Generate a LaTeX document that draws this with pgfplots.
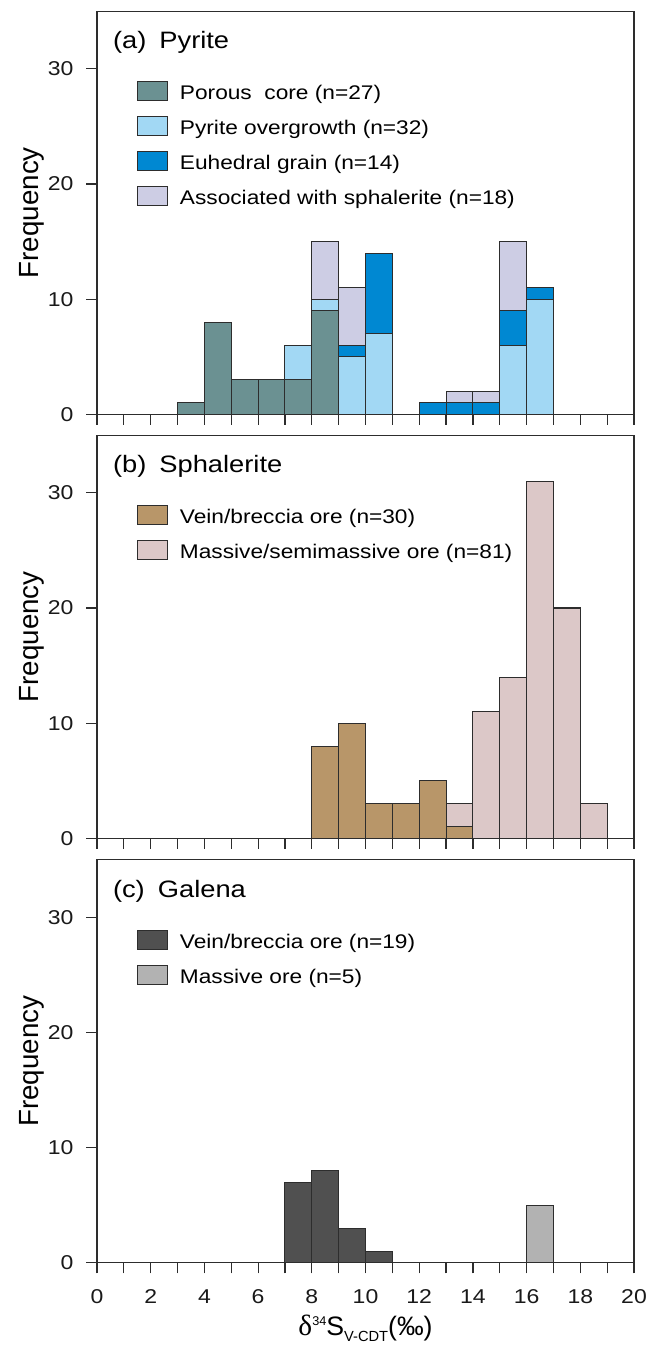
\documentclass[border=0pt]{standalone}
\usepackage{fontspec}
\setmainfont{Liberation Sans}[FakeStretch=1.15]
\newfontfamily\plainsans{Liberation Sans}
\newfontfamily\serifgreek{Liberation Serif}
\usepackage{pgfplots}
\pgfplotsset{compat=1.18}
\usepackage{pgfplotstable}

\definecolor{edge}{RGB}{45,45,45}
\definecolor{porous}{RGB}{107,145,146}
\definecolor{overg}{RGB}{162,216,244}
\definecolor{euhed}{RGB}{0,136,210}
\definecolor{assoc}{RGB}{205,205,228}
\definecolor{sphvein}{RGB}{184,150,105}
\definecolor{sphmass}{RGB}{220,200,200}
\definecolor{galvein}{RGB}{80,80,80}
\definecolor{galmass}{RGB}{178,178,178}

\newcommand{\tickfont}{\fontsize{15}{18}\selectfont}
\newcommand{\legfont}{\fontsize{14.8}{17}\selectfont}
\newcommand{\titfont}{\fontsize{17.8}{21}\selectfont}
\newcommand{\freqfont}{\plainsans\fontsize{20.8}{25}\selectfont}

% Pyrite: bins (centre) porous, overgrowth, euhedral, associated
\pgfplotstableread{
x    a  b  c  d
3.5  1  0  0  0
4.5  8  0  0  0
5.5  3  0  0  0
6.5  3  0  0  0
7.5  3  3  0  0
8.5  9  1  0  5
9.5  0  5  1  5
10.5 0  7  7  0
11.5 0  0  0  0
12.5 0  0  1  0
13.5 0  0  1  1
14.5 0  0  1  1
15.5 0  6  3  6
16.5 0  10 1  0
}\pyrite

% Sphalerite: vein/breccia, massive/semimassive
\pgfplotstableread{
x    v  m
8.5  8  0
9.5  10 0
10.5 3  0
11.5 3  0
12.5 5  0
13.5 1  2
14.5 0  11
15.5 0  14
16.5 0  31
17.5 0  20
18.5 0  3
}\sphal

% Galena
\pgfplotstableread{
x    v
7.5  7
8.5  8
9.5  3
10.5 1
}\galvein
\pgfplotstableread{
x    m
16.5 5
}\galmass

\pgfplotsset{
  panel/.style={
    scale only axis, width=402.75pt, height=302.25pt,
    xmin=0, xmax=20, ymin=0, ymax=35,
    xtick={0,1,...,20}, ytick={0,10,20,30},
    xtick pos=bottom, ytick pos=left,
    tick align=outside, major tick length=8pt,
    axis line style={line width=1pt, draw=edge},
    tick style={line width=0.9pt, draw=edge},
    /pgf/number format/assume math mode=true,
    ticklabel style={font=\tickfont, text=black!90},
    yticklabel style={inner sep=0pt, xshift=-9.5pt},
    xticklabel style={inner sep=0pt, yshift=-12pt},
    ylabel={Frequency},
    ylabel style={at={(axis description cs:-0.10925,0.5)}, anchor=base, font=\freqfont, inner sep=0pt},
    bar width=1, bar shift=0pt,
    legend image code/.code={\draw[draw=edge, line width=0.8pt, ##1] (0pt,-4.3pt) rectangle (22pt,10pt);},
    legend cell align=left,
    legend style={draw=none, fill=none, font=\legfont,
      at={(axis description cs:0,1)}, anchor=north west,
      xshift=30.2pt, yshift=-52.5pt, inner sep=0pt, outer sep=0pt,
      row sep=8.7pt, column sep=9.2pt,
      nodes={inner sep=0pt, text height=10.5pt, text depth=3.75pt}},
    every axis plot/.append style={draw=edge, line width=0.8pt},
  }
}

\begin{document}
\begin{tikzpicture}
\useasboundingbox (-72.75pt,-61.7pt) rectangle (421.5pt,947pt);

% (a) Pyrite
\begin{axis}[ybar stacked, panel, at={(0pt,636.3pt)}, anchor=south west, xticklabels={}]
\addplot[fill=porous] table[x=x,y=a]{\pyrite};
\addlegendentry{Porous\ \ core (n=27)}
\addplot[fill=overg] table[x=x,y=b]{\pyrite};
\addlegendentry{Pyrite overgrowth (n=32)}
\addplot[fill=euhed] table[x=x,y=c]{\pyrite};
\addlegendentry{Euhedral grain (n=14)}
\addplot[fill=assoc] table[x=x,y=d]{\pyrite};
\addlegendentry{Associated with sphalerite (n=18)}
\node[anchor=base west, font=\titfont, inner sep=0pt] at ([xshift=11.8pt,yshift=-28pt]rel axis cs:0,1) {(a)\hspace{0.55em}Pyrite};
\end{axis}

% (b) Sphalerite
\begin{axis}[ybar stacked, panel, at={(0pt,318.3pt)}, anchor=south west, xticklabels={}]
\addplot[fill=sphvein] table[x=x,y=v]{\sphal};
\addlegendentry{Vein/breccia ore (n=30)}
\addplot[fill=sphmass] table[x=x,y=m]{\sphal};
\addlegendentry{Massive/semimassive ore (n=81)}
\node[anchor=base west, font=\titfont, inner sep=0pt] at ([xshift=11.8pt,yshift=-28pt]rel axis cs:0,1) {(b)\hspace{0.55em}Sphalerite};
\end{axis}

% (c) Galena
\begin{axis}[ybar, panel, at={(0pt,0pt)}, anchor=south west,
  xticklabels={0,,2,,4,,6,,8,,10,,12,,14,,16,,18,,20},
  xlabel={{\serifgreek\fontsize{22}{24}\selectfont δ}\raisebox{7.5pt}{\plainsans\fontsize{9.5}{11}\selectfont 34}S\raisebox{-4.5pt}{\plainsans\fontsize{11}{13}\selectfont V-CDT}(‰)},
  xlabel style={at={(axis description cs:0.5,-0.1810)}, anchor=base, font=\plainsans\fontsize{20}{24}\selectfont, inner sep=0pt}]
\addplot[fill=galvein, bar shift=0pt] table[x=x,y=v]{\galvein};
\addlegendentry{Vein/breccia ore (n=19)}
\addplot[fill=galmass, bar shift=0pt] table[x=x,y=m]{\galmass};
\addlegendentry{Massive ore (n=5)}
\node[anchor=base west, font=\titfont, inner sep=0pt] at ([xshift=11.8pt,yshift=-28pt]rel axis cs:0,1) {(c)\hspace{0.55em}Galena};
\end{axis}
\end{tikzpicture}
\end{document}
